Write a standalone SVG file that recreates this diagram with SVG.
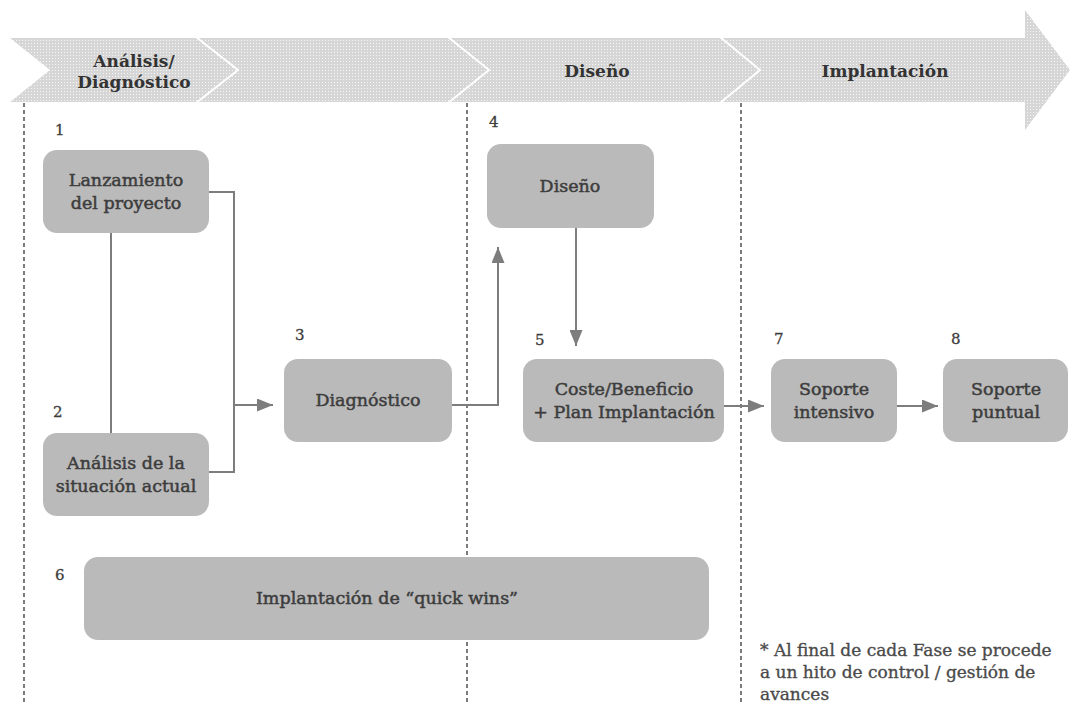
<svg xmlns="http://www.w3.org/2000/svg" width="1072" height="704" viewBox="0 0 1072 704">
<defs>
<pattern id="dots" width="3" height="3" patternUnits="userSpaceOnUse">
<rect width="3" height="3" fill="#d6d6d6"/>
<rect x="1" y="1" width="1" height="1" fill="#f6f6f6"/>
</pattern>
<marker id="ah" viewBox="0 0 16 13" refX="16" refY="6.5" markerWidth="16" markerHeight="13" markerUnits="userSpaceOnUse" orient="auto">
<path d="M0,0 L16,6.5 L0,13 z" fill="#7d7d7d"/>
</marker>
<style>
.hdr{font-family:"DejaVu Serif","Liberation Serif",serif;font-weight:bold;font-size:17px;fill:#333;text-anchor:middle}
.nt{font-family:"DejaVu Serif","Liberation Serif",serif;font-size:17.5px;fill:#3d3d3d;stroke:#3d3d3d;stroke-width:0.5;text-anchor:middle}
.num{font-family:"DejaVu Serif","Liberation Serif",serif;font-size:15px;fill:#3d3d3d;stroke:#3d3d3d;stroke-width:0.3}
.fn{font-family:"DejaVu Serif","Liberation Serif",serif;font-size:17px;fill:#4a4a4a;stroke:#4a4a4a;stroke-width:0.35}
.box{fill:#bababa}
.dash{stroke:#5a5a5a;stroke-width:1.6;stroke-dasharray:4 3;fill:none}
.con{stroke:#7d7d7d;stroke-width:2;fill:none}
.chev{stroke:#fff;stroke-width:2;fill:none}
</style>
</defs>
<rect width="1072" height="704" fill="#fff"/>
<g id="banner">
<polygon points="10,38 1025,38 1025,10 1070,70 1025,130 1025,102 10,102 50,70" fill="url(#dots)"/>
<polyline class="chev" points="196,37 238,70 196,103"/>
<polyline class="chev" points="448,37 489,70 448,103"/>
<polyline class="chev" points="720,37 760,70 720,103"/>
<text class="hdr" x="134" y="67">Análisis/</text>
<text class="hdr" x="134" y="88">Diagnóstico</text>
<text class="hdr" x="597" y="77">Diseño</text>
<text class="hdr" x="885" y="77">Implantación</text>
</g>
<g id="phase-lines">
<line class="dash" x1="24" y1="103" x2="24" y2="704"/>
<line class="dash" x1="467" y1="103" x2="467" y2="704"/>
<line class="dash" x1="741" y1="103" x2="741" y2="704"/>
</g>
<g id="connectors">
<line class="con" x1="111" y1="233" x2="111" y2="433" stroke-width="1.6"/>
<polyline class="con" points="209,192 234,192 234,472 209,472"/>
<line class="con" x1="234" y1="405" x2="273" y2="405" marker-end="url(#ah)"/>
<polyline class="con" points="452,405 498,405 498,247" marker-end="url(#ah)"/>
<line class="con" x1="576" y1="228" x2="576" y2="346" marker-end="url(#ah)"/>
<line class="con" x1="724" y1="406" x2="764" y2="406" marker-end="url(#ah)"/>
<line class="con" x1="897" y1="406" x2="938" y2="406" marker-end="url(#ah)"/>
</g>
<g id="node1">
<text class="num" x="55" y="135">1</text>
<rect class="box" x="43" y="150" width="166" height="83" rx="14"/>
<text class="nt" x="126" y="186">Lanzamiento</text>
<text class="nt" x="126" y="209">del proyecto</text>
</g>
<g id="node2">
<text class="num" x="53" y="417">2</text>
<rect class="box" x="43" y="433" width="166" height="83" rx="14"/>
<text class="nt" x="126" y="469">Análisis de la</text>
<text class="nt" x="126" y="492">situación actual</text>
</g>
<g id="node3">
<text class="num" x="295" y="340">3</text>
<rect class="box" x="284" y="359" width="168" height="83" rx="14"/>
<text class="nt" x="368" y="406">Diagnóstico</text>
</g>
<g id="node4">
<text class="num" x="489" y="127">4</text>
<rect class="box" x="487" y="144" width="167" height="84" rx="14"/>
<text class="nt" x="570" y="192">Diseño</text>
</g>
<g id="node5">
<text class="num" x="535" y="345">5</text>
<rect class="box" x="523" y="359" width="201" height="83" rx="14"/>
<text class="nt" x="624" y="395">Coste/Beneficio</text>
<text class="nt" x="624" y="418">+ Plan Implantación</text>
</g>
<g id="node6">
<text class="num" x="55" y="580">6</text>
<rect class="box" x="84" y="557" width="625" height="83" rx="14"/>
<text class="nt" x="387" y="604">Implantación de “quick wins”</text>
</g>
<g id="node7">
<text class="num" x="774" y="344">7</text>
<rect class="box" x="771" y="359" width="126" height="83" rx="14"/>
<text class="nt" x="834" y="395">Soporte</text>
<text class="nt" x="834" y="418">intensivo</text>
</g>
<g id="node8">
<text class="num" x="951" y="344">8</text>
<rect class="box" x="943" y="359" width="125" height="83" rx="14"/>
<text class="nt" x="1006" y="395">Soporte</text>
<text class="nt" x="1006" y="418">puntual</text>
</g>
<g id="footnote">
<text class="fn" x="760" y="656">* Al final de cada Fase se procede</text>
<text class="fn" x="760" y="678">a un hito de control / gestión de</text>
<text class="fn" x="760" y="700">avances</text>
</g>
</svg>
